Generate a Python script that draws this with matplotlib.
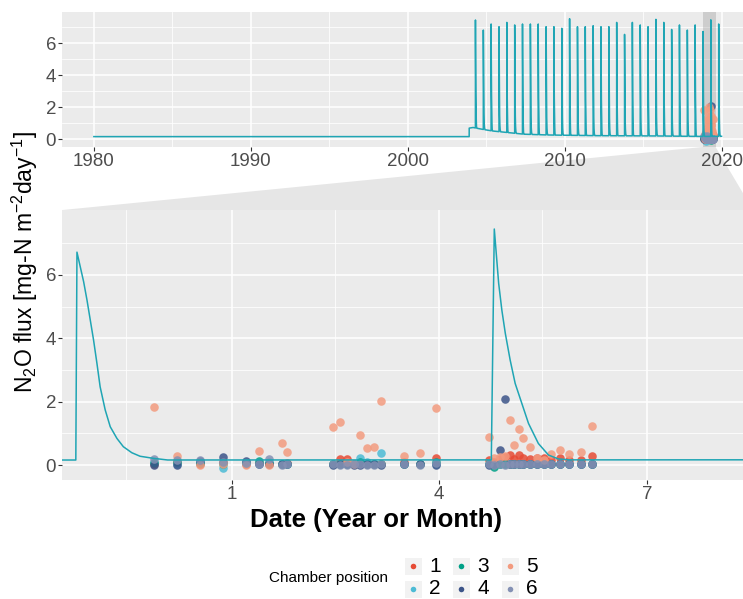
import numpy as np
import matplotlib
matplotlib.use("Agg")
import matplotlib.pyplot as plt
import matplotlib.dates as mdates
from matplotlib.patches import Polygon, Rectangle

plt.rcParams["font.family"] = ["Liberation Sans", "DejaVu Sans"]
plt.rcParams["mathtext.default"] = "regular"

# simulated background flux (vertices)
base_dates = ["1980-01-01", "2003-12-01", "2003-12-02", "2004-03-01", "2004-09-01", "2005-06-01",
              "2006-06-01", "2007-06-01", "2009-01-01", "2012-01-01", "2016-01-01", "2018-10-01",
              "2019-12-31"]
base_vals = [0.15, 0.15, 0.68, 0.72, 0.62, 0.50, 0.40, 0.30, 0.25, 0.21, 0.19, 0.16, 0.17]

# fertilisation peaks, twice a year (24 April / 25 October)
peak_years = list(range(2004, 2020))
peak_apr = [7.44, 7.19, 7.29, 7.19, 7.19, 7.02, 7.52, 7.02, 7.02, 7.29, 7.29, 7.02, 7.29, 7.13, 7.13, 7.45]
peak_oct = [6.81, 7.02, 7.13, 7.19, 7.02, 6.92, 7.02, 7.08, 7.02, 6.54, 7.13, 7.48, 6.85, 6.81, 6.72, 7.19]

# decay after a peak (days after start, share of the peak)
apr_days = [0, 1.3, 2.4, 3.2, 4.6, 6.1, 8.2, 10.4, 13.3, 16.2, 20.5, 24.9, 29.2, 34.0]
apr_frac = [0, 1.0, 0.865, 0.765, 0.648, 0.548, 0.433, 0.331, 0.245, 0.158, 0.071, 0.021, 0.004, 0.0]
oct_days = [0, 0.5, 1.95, 3.4, 4.86, 6.29, 7.72, 9.2, 10.6, 12.8, 15.0, 17.9, 20.7, 24.4, 28.0, 33.8, 40.0]
oct_frac = [0, 1.0, 0.930, 0.858, 0.770, 0.674, 0.578, 0.465, 0.352, 0.241, 0.160, 0.104, 0.064, 0.035,
            0.018, 0.008, 0.0]

# chamber measurements, days after 2019-01-01
obs_days = [-34, -24, -14, -4, 6, 12, 16, 22, 24, 44, 47, 50, 53, 56, 59, 62, 65, 75, 82, 89,
            112, 114, 117, 119, 121, 123, 125, 127, 130, 133, 136, 139, 143, 147, 152, 157]
ch1 = [0.05, 0.10, 0.05, 0.10, 0.05, 0.08, 0.05, 0.05, 0.08, 0.05, 0.19, 0.19, 0.05, 0.08, 0.05, 0.05, 0.05, 0.10,
       0.05, 0.23, 0.15, 0.10, 0.20, 0.25, 0.32, 0.20, 0.32, 0.21, 0.20, 0.22, 0.23, 0.15, 0.23, 0.15, 0.15, 0.28]
ch2 = [0.10, 0.05, 0.10, -0.10, 0.08, 0.05, 0.10, 0.05, 0.05, 0.02, 0.05, 0.05, 0.05, 0.23, 0.10, 0.05, 0.39, 0.05,
       0.05, 0.05, 0.05, 0.05, 0.05, 0.05, 0.05, 0.05, 0.05, 0.05, 0.05, 0.05, 0.05, 0.05, 0.05, 0.05, 0.05, 0.05]
ch3 = [0.08, 0.10, 0.08, 0.05, 0.06, 0.12, 0.08, 0.05, 0.05, 0.02, 0.05, 0.05, 0.02, 0.10, 0.05, 0.05, 0.05, 0.05,
       0.05, 0.10, 0.05, -0.05, 0.05, 0.05, 0.05, 0.05, 0.05, 0.05, 0.05, 0.05, 0.05, 0.05, 0.05, 0.05, 0.05, 0.05]
ch4 = [0.0, 0.0, 0.12, 0.26, 0.12, 0.05, 0.05, 0.02, 0.05, 0.0, 0.02, 0.02, 0.0, 0.0, 0.05, 0.05, 0.0, 0.05,
       0.05, 0.0, 0.0, 0.05, 0.49, 2.08, 0.02, 0.02, 0.02, 0.02, 0.02, 0.02, 0.02, 0.02, 0.02, 0.02, 0.02, 0.02]
ch5 = [1.82, 0.29, 0.0, 0.05, 0.0, 0.45, 0.0, 0.70, 0.42, 1.21, 1.37, 0.10, 0.05, 0.95, 0.53, 0.58, 2.03, 0.29,
       0.37, 1.79, 0.89, 0.23, 0.26, 0.30, 1.42, 0.63, 1.14, 0.86, 0.58, 0.21, 0.15, 0.34, 0.47, 0.34, 0.40, 1.23]
ch6 = [0.19, 0.15, 0.15, 0.10, 0.08, 0.02, 0.18, 0.0, 0.02, 0.02, 0.0, 0.0, 0.02, 0.05, 0.0, 0.0, 0.02, 0.05,
       0.0, 0.08, 0.02, 0.0, 0.02, 0.0, 0.02, 0.02, 0.02, 0.02, 0.02, 0.02, 0.02, 0.02, 0.02, 0.02, 0.02, 0.02]
chambers = ["1", "2", "3", "4", "5", "6"]
colors = ["#E64B35", "#4DBBD5", "#00A087", "#3C5488", "#F39B7F", "#8491B4"]
line_color = "#1FA5B4"

# build the simulated line
t_base = mdates.datestr2num(base_dates)
ts, ys = list(t_base), list(base_vals)
for yr, pa, po in zip(peak_years, peak_apr, peak_oct):
    for start, peak, dd, ff in ((f"{yr}-04-24", pa, apr_days, apr_frac),
                                (f"{yr}-10-25", po, oct_days, oct_frac)):
        tt = mdates.datestr2num(start) + np.array(dd)
        b = np.interp(tt, t_base, base_vals)
        ts += list(tt)
        ys += list(b + np.array(ff) * (peak - b))
order = np.argsort(ts)
ts = np.array(ts)[order]
ys = np.array(ys)[order]

t_obs = mdates.datestr2num("2019-01-01") + np.array(obs_days)
obs = [ch1, ch2, ch3, ch4, ch5, ch6]

W, H = 743, 599
fig = plt.figure(figsize=(W / 100, H / 100), dpi=100)

# panel pixel boxes - right side runs off the picture
L, R = 62.5, 753
ax_top = fig.add_axes([L / W, 1 - 147 / H, (R - L) / W, 135 / H], zorder=2)
ax_bot = fig.add_axes([L / W, 1 - 480 / H, (R - L) / W, 270 / H], zorder=2)
ov = fig.add_axes([0, 0, 1, 1], zorder=1)
ov.set_xlim(0, W)
ov.set_ylim(H, 0)
ov.axis("off")

zoom_lo = mdates.datestr2num("2019-01-01") - 73.8
zoom_hi = mdates.datestr2num("2019-01-01") + 225.7

for ax in (ax_top, ax_bot):
    ax.set_facecolor("#EBEBEB")
    for s in ax.spines.values():
        s.set_visible(False)
    ax.set_axisbelow(True)
    ax.grid(which="major", color="white", lw=1.1)
    ax.grid(which="minor", color="white", lw=0.55)
    ax.tick_params(which="major", length=3, width=0.8, color="#333333", labelcolor="#4D4D4D",
                   labelsize=13.5, pad=1.5)
    ax.tick_params(which="minor", length=0)
    for c, vals in zip(colors, obs):
        ax.scatter(t_obs, vals, s=38, color=c, alpha=0.85, lw=0, zorder=3)
    ax.plot(ts, ys, color=line_color, lw=1.1, zorder=4)
    ax.set_yticks([0, 2, 4, 6])
    ax.set_yticks([1, 3, 5, 7], minor=True)
    ax.set_yticklabels(["0", "2", "4", "6"])

ax_top.axvspan(zoom_lo, zoom_hi, color="grey", alpha=0.28, lw=0, zorder=2)
ax_top.set_xlim(mdates.datestr2num("1978-01-01"), mdates.datestr2num("2022-01-01"))
ax_top.set_ylim(-0.5, 7.94)
ax_top.set_xticks(mdates.datestr2num([f"{y}-01-01" for y in range(1980, 2021, 10)]))
ax_top.set_xticks(mdates.datestr2num([f"{y}-01-01" for y in range(1985, 2021, 10)]), minor=True)
ax_top.set_xticklabels([str(y) for y in range(1980, 2021, 10)])

ax_bot.set_xlim(zoom_lo, zoom_hi)
ax_bot.set_ylim(-0.47, 8.05)
ax_bot.set_xticks(mdates.datestr2num(["2019-01-01", "2019-04-01", "2019-07-01"]))
ax_bot.set_xticks(mdates.datestr2num(["2018-11-16", "2019-02-15", "2019-05-16", "2019-08-16"]), minor=True)
ax_bot.set_xticklabels(["1", "4", "7"])

# zoom indicator between the panels
fig.canvas.draw()
x_lo = ax_top.transData.transform((zoom_lo, 0))[0]
x_hi = ax_top.transData.transform((zoom_hi, 0))[0]
ov.add_patch(Polygon([(x_lo, 147), (L, 210), (R, 210), (x_hi, 147)], closed=True,
                     facecolor="#E6E6E6", edgecolor="none"))

fig.text(376 / W, 1 - 520 / H, "Date (Year or Month)", ha="center", va="center",
         fontsize=18.5, fontweight="bold", color="black")
fig.text(25 / W, 1 - 262 / H, "N$_2$O flux [mg-N m$^{-2}$day$^{-1}$]", ha="center", va="center",
         rotation=90, fontsize=16.5, color="black")

# legend
ov.text(388, 578, "Chamber position", ha="right", va="center", fontsize=11)
key_x = [413, 461, 510]
key_y = [566, 589]
for i, (lab, c) in enumerate(zip(chambers, colors)):
    kx, ky = key_x[i // 2], key_y[i % 2]
    ov.add_patch(Rectangle((kx - 8.5, ky - 8.5), 17, 17, facecolor="#F2F2F2", edgecolor="none"))
    ov.scatter([kx], [ky], s=16, color=c, lw=0)
    ov.text(kx + 16, ky, lab, ha="left", va="center", fontsize=15)

fig.savefig("out.png", dpi=100)
